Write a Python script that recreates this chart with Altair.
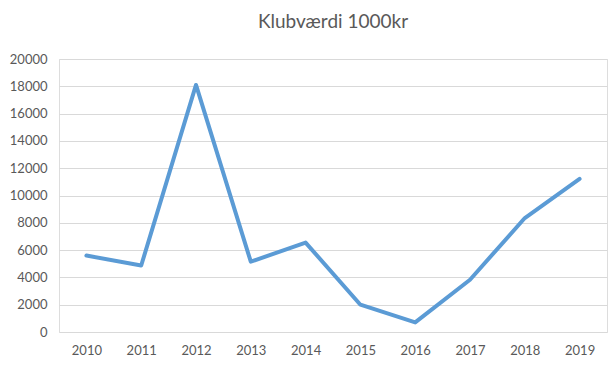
import altair as alt
import pandas as pd

years = ["2010", "2011", "2012", "2013", "2014", "2015", "2016", "2017", "2018", "2019"]
values = [5600, 4870, 18100, 5150, 6550, 2000, 700, 3830, 8350, 11220]

df = pd.DataFrame({"year": years, "value": values})

font = "Lato"
chart = alt.Chart(df).mark_line(color="#5B9BD5", strokeWidth=4, strokeCap="round", strokeJoin="round").encode(
    x=alt.X("year:O", sort=years, scale=alt.Scale(padding=0.5),
            axis=alt.Axis(title=None, labelAngle=0, domain=False, ticks=False, grid=False,
                          labelPadding=12, labelFontSize=13, labelColor="#595959", labelFont=font)),
    y=alt.Y("value:Q", scale=alt.Scale(domain=[0, 20000], nice=False),
            axis=alt.Axis(title=None, values=list(range(0, 20001, 2000)), format="d", domain=False, ticks=False,
                          gridColor="#d9d9d9", gridWidth=1, labelPadding=12, labelFontSize=13,
                          labelColor="#595959", labelFont=font)),
).properties(
    width=548, height=273,
    title=alt.TitleParams("Klubværdi 1000kr", fontSize=19, font=font, fontWeight="normal",
                          color="#595959", anchor="middle", offset=21),
    autosize=alt.AutoSizeParams(type="none"),
    padding={"left": 59, "top": 59, "right": 9, "bottom": 39},
).configure_view(stroke=None).configure(background="white")

chart.save("out.html", embed_options={"renderer": "svg", "actions": False})
